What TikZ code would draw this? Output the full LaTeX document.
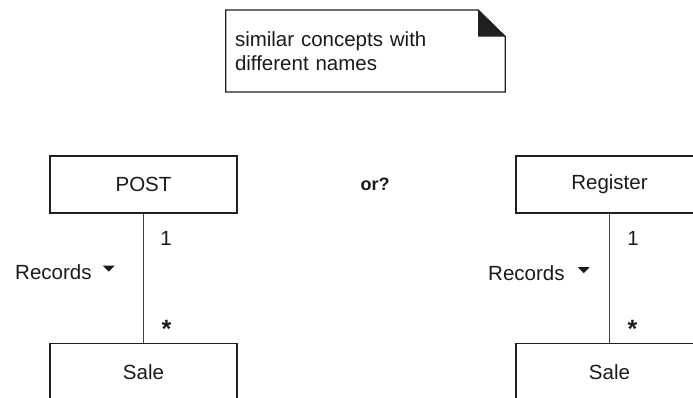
\documentclass[tikz,border=0pt]{standalone}
\usepackage{fontspec}
\setmainfont{Liberation Sans}
\usetikzlibrary{positioning}
\definecolor{ink}{HTML}{1A1A1A}
\definecolor{edge}{HTML}{202020}
\definecolor{link}{HTML}{404040}
\tikzset{
  classbox/.style={draw=edge, line width=1.3pt, minimum width=187pt, minimum height=57pt,
    inner sep=0pt, font=\fontsize{20.5}{24}\selectfont, text=ink},
  assoc/.style={draw=link, line width=1.3pt},
  notebox/.style={minimum width=279pt, minimum height=81.5pt, text width=261pt, align=left,
    inner xsep=9pt, inner ysep=0pt, font=\fontsize{20.5}{24}\selectfont, text=ink},
  noteline/.style={draw=edge, line width=1.3pt},
  lbl/.style={inner sep=0pt, anchor=base, font=\fontsize{20.5}{24}\selectfont, text=ink},
  multlbl/.style={inner sep=0pt, anchor=base, font=\bfseries\fontsize{25}{30}\selectfont, text=ink},
  orlbl/.style={inner sep=0pt, font=\bfseries\fontsize{18}{21}\selectfont, text=ink}
}

\begin{document}
\begin{tikzpicture}[x=1pt, y=-1pt]

  \useasboundingbox (0,0) rectangle (693,397);
  \clip (0,0) rectangle (693,397);

  % ---- Note ----------------------------------------------------------------
  \node[notebox] (note) at (365.5,51) {similar concepts with\\different names};
  \draw[noteline] (note.north west) -- ([xshift=-27pt]note.north east)
    -- ([yshift=-26.5pt]note.north east) -- (note.south east)
    -- (note.south west) -- cycle;
  \fill[edge] ([xshift=-27pt]note.north east) -- ([xshift=-27pt,yshift=-26.5pt]note.north east)
    -- ([yshift=-26.5pt]note.north east) -- cycle;

  % ---- Left model ----------------------------------------------------------
  \node[classbox] (post) at (143.5,184.5) {POST};
  \node[classbox, below=129pt of post] (saleA) {Sale};
  \draw[assoc] (post) -- (saleA);

  \node[lbl] (oneA) at (166,245) {1};
  \node[multlbl] (manyA) at (166.5,337) {*};
  \node[lbl, anchor=base west] (recA) at (15,279) {Records};
  \fill[ink] (recA.east) ++(11,-6) -- ++(12,0) -- ++(-6,6) -- cycle;

  % ---- Between -------------------------------------------------------------
  \node[orlbl] (orq) at (375,184.5) {or?};

  % ---- Right model ---------------------------------------------------------
  \node[classbox] (register) at (609.5,184.5) {Register};
  \node[classbox, below=129pt of register] (saleB) {Sale};
  \draw[assoc] (register) -- (saleB);

  \node[lbl] (oneB) at (633,245) {1};
  \node[multlbl] (manyB) at (632.5,337) {*};
  \node[lbl, anchor=base west] (recB) at (488,280.5) {Records};
  \fill[ink] (recB.east) ++(13,-6) -- ++(12,0) -- ++(-6,6) -- cycle;

\end{tikzpicture}
\end{document}
